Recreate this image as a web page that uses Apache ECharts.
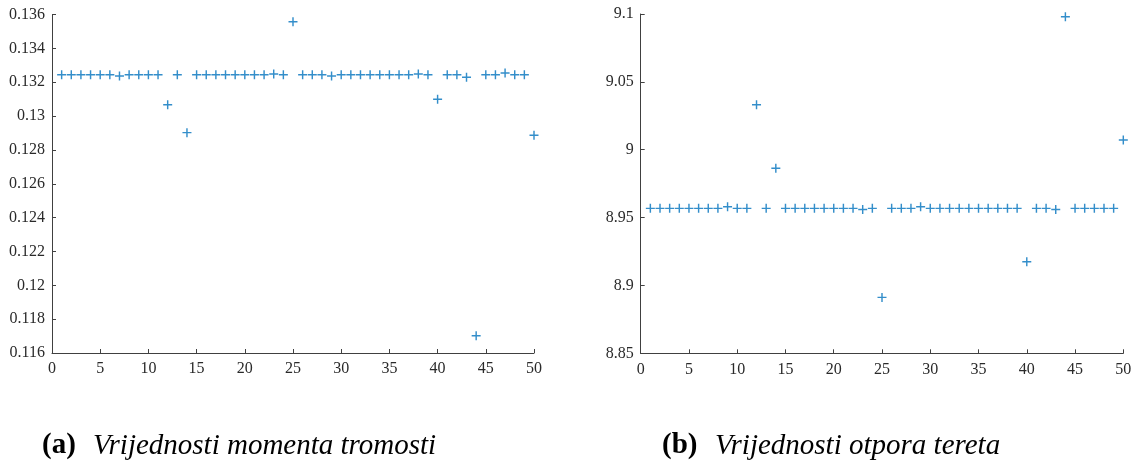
<!DOCTYPE html>
<html>
<head>
<meta charset="utf-8">
<script src="https://cdn.jsdelivr.net/npm/echarts@6/dist/echarts.min.js"></script>
<style>
  html, body { margin: 0; padding: 0; background: #fff; }
  #chart { width: 1136px; height: 460px; }
</style>
</head>
<body>
<div id="chart"></div>
<script>
// Sample index (x values)
const sampleIndex = [1,2,3,4,5,6,7,8,9,10,11,12,13,14,15,16,17,18,19,20,21,22,23,24,25,
  26,27,28,29,30,31,32,33,34,35,36,37,38,39,40,41,42,43,44,45,46,47,48,49,50];

// (a) moment of inertia values
const momentValues = [
  0.13244,0.13244,0.13244,0.13244,0.13244,0.13244,0.13237,0.13244,0.13244,0.13244,
  0.13244,0.13067,0.13244,0.12902,0.13244,0.13244,0.13244,0.13244,0.13244,0.13244,
  0.13244,0.13244,0.13248,0.13244,0.13557,0.13244,0.13244,0.13244,0.13237,0.13244,
  0.13244,0.13244,0.13244,0.13244,0.13244,0.13244,0.13244,0.13248,0.13244,0.13099,
  0.13244,0.13244,0.13229,0.11702,0.13244,0.13244,0.13254,0.13244,0.13244,0.12886
];

// (b) load resistance values
const resistValues = [
  8.9568,8.9568,8.9568,8.9568,8.9568,8.9568,8.9568,8.9568,8.9580,8.9568,
  8.9568,9.0332,8.9568,8.9863,8.9568,8.9568,8.9568,8.9568,8.9568,8.9568,
  8.9568,8.9568,8.9560,8.9568,8.8912,8.9568,8.9568,8.9568,8.9580,8.9568,
  8.9568,8.9568,8.9568,8.9568,8.9568,8.9568,8.9568,8.9568,8.9568,8.9175,
  8.9568,8.9568,8.9560,9.0980,8.9568,8.9568,8.9568,8.9568,8.9568,9.0071
];

const captionA = ['(a)', 'Vrijednosti momenta tromosti'];
const captionB = ['(b)', 'Vrijednosti otpora tereta'];

const axisColor = '#404040';
const labelColor = '#2a2a2a';
const markerColor = '#0072BD';
const plusPath = 'path://M0,4.2H10V5.8H0Z M4.2,0H5.8V10H4.2Z';
const serif = 'Liberation Serif';

function xAxisDef(gridIndex) {
  return {
    type: 'value', gridIndex, min: 0, max: 50, interval: 5,
    axisLine: { show: true, onZero: false, lineStyle: { color: axisColor, width: 1 } },
    axisTick: { show: true, inside: true, length: 4, lineStyle: { color: axisColor } },
    axisLabel: { color: labelColor, fontFamily: serif, fontSize: 16, margin: 8 },
    splitLine: { show: false }
  };
}
function yAxisDef(gridIndex, min, max, interval, dec) {
  return {
    type: 'value', gridIndex, min, max, interval,
    axisLine: { show: true, onZero: false, lineStyle: { color: axisColor, width: 1 } },
    axisTick: { show: true, inside: true, length: 4, lineStyle: { color: axisColor } },
    axisLabel: { color: labelColor, fontFamily: serif, fontSize: 16, margin: 7,
      formatter: v => String(parseFloat(Number(v).toFixed(dec))) },
    splitLine: { show: false }
  };
}
function pairs(xs, ys) { return xs.map((x, i) => [x, ys[i]]); }

const chart = echarts.init(document.getElementById('chart'), null, { renderer: 'canvas' });
chart.setOption({
  animation: false,
  backgroundColor: '#ffffff',
  grid: [
    { left: 52, top: 14.5, width: 482, height: 338.5, containLabel: false, outerBoundsMode: 'none' },
    { left: 640.7, top: 14, width: 482.6, height: 339.3, containLabel: false, outerBoundsMode: 'none' }
  ],
  xAxis: [xAxisDef(0), xAxisDef(1)],
  yAxis: [yAxisDef(0, 0.116, 0.136, 0.002, 3), yAxisDef(1, 8.85, 9.1, 0.05, 2)],
  series: [
    { type: 'scatter', xAxisIndex: 0, yAxisIndex: 0, data: pairs(sampleIndex, momentValues),
      symbol: plusPath, symbolSize: 9, itemStyle: { color: markerColor } },
    { type: 'scatter', xAxisIndex: 1, yAxisIndex: 1, data: pairs(sampleIndex, resistValues),
      symbol: plusPath, symbolSize: 9, itemStyle: { color: markerColor } }
  ],
  graphic: [
    { type: 'text', x: 42, y: 446, style: { text: captionA[0], fontFamily: serif, fontWeight: 'bold', fontSize: 29, fill: '#000', verticalAlign: 'middle' } },
    { type: 'text', x: 93, y: 446, style: { text: captionA[1], fontFamily: serif, fontStyle: 'italic', fontSize: 29, fill: '#000', verticalAlign: 'middle' } },
    { type: 'text', x: 662, y: 446, style: { text: captionB[0], fontFamily: serif, fontWeight: 'bold', fontSize: 29, fill: '#000', verticalAlign: 'middle' } },
    { type: 'text', x: 715, y: 446, style: { text: captionB[1], fontFamily: serif, fontStyle: 'italic', fontSize: 29, fill: '#000', verticalAlign: 'middle' } }
  ]
});
</script>
</body>
</html>
